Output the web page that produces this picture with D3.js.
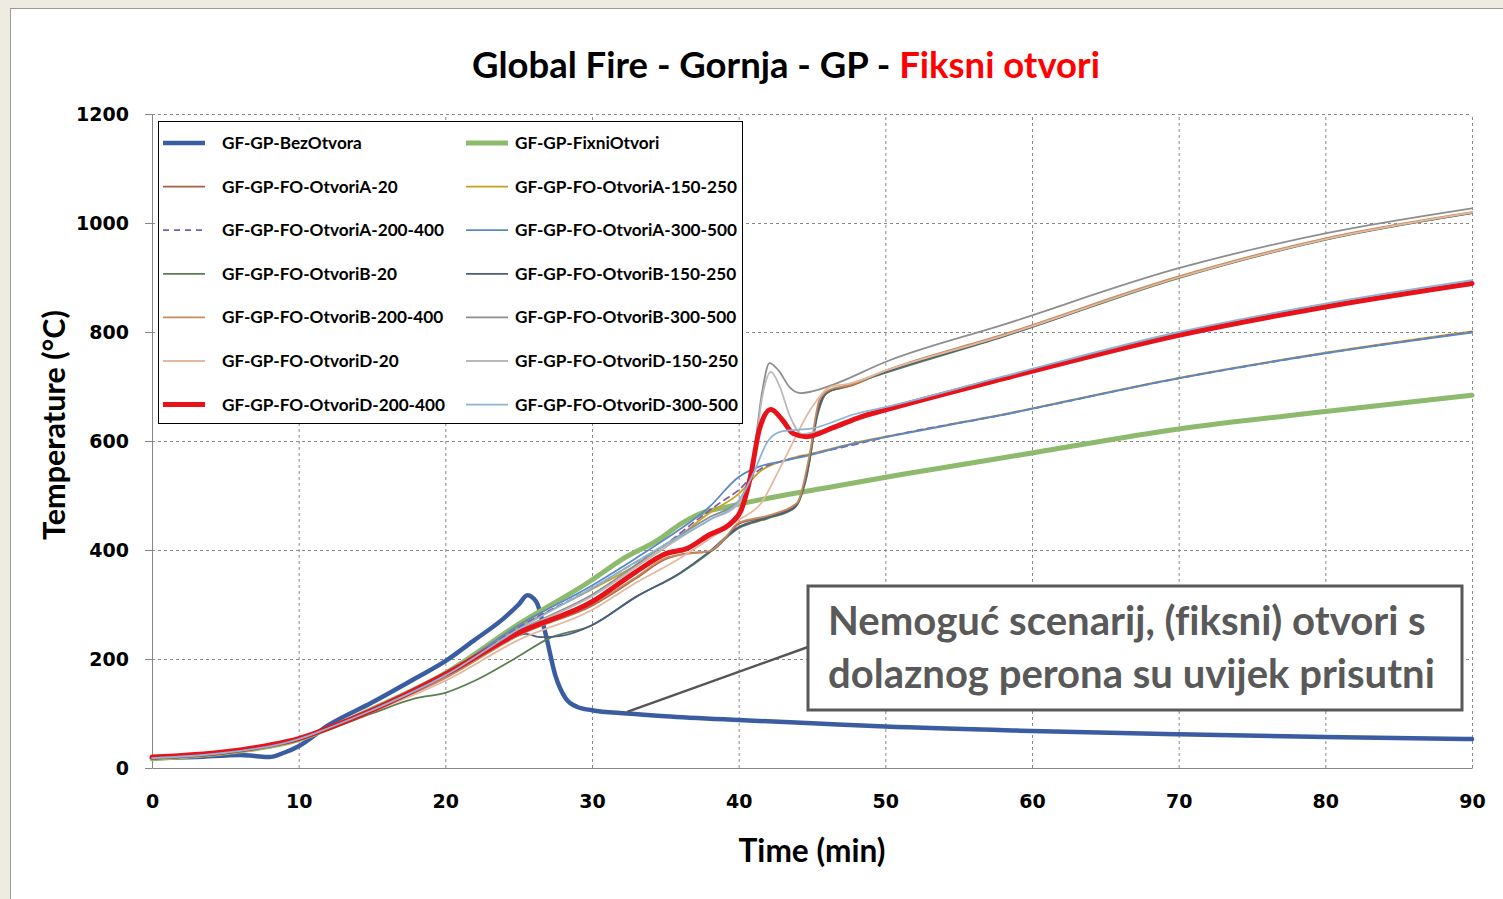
<!DOCTYPE html>
<html>
<head>
<meta charset="utf-8">
<script src="https://cdn.jsdelivr.net/npm/d3@7"></script>
<style>
  body { margin: 0; background: #eeebe2; }
  svg { display: block; }
  text { font-variant-ligatures: none; }
  .tick text { font-family: "DejaVu Sans", sans-serif; font-weight: bold; font-size: 19px; fill: #000; }
  .grid line { stroke: #8a8a8a; stroke-dasharray: 3,3; }
</style>
</head>
<body>
<div id="chart"></div>
<script>
// ---- data (minutes, °C) ----
const xTicks = [0, 10, 20, 30, 40, 50, 60, 70, 80, 90];
const yTicks = [0, 200, 400, 600, 800, 1000, 1200];

const names = [
  'GF-GP-BezOtvora', 'GF-GP-FixniOtvori',
  'GF-GP-FO-OtvoriA-20', 'GF-GP-FO-OtvoriA-150-250',
  'GF-GP-FO-OtvoriA-200-400', 'GF-GP-FO-OtvoriA-300-500',
  'GF-GP-FO-OtvoriB-20', 'GF-GP-FO-OtvoriB-150-250',
  'GF-GP-FO-OtvoriB-200-400', 'GF-GP-FO-OtvoriB-300-500',
  'GF-GP-FO-OtvoriD-20', 'GF-GP-FO-OtvoriD-150-250',
  'GF-GP-FO-OtvoriD-200-400', 'GF-GP-FO-OtvoriD-300-500'
];

const bezOtvora = [[0,18],[3,20],[6,24],[7,22],[8,20],[9,28],[10,40],[12,78],[15,120],[18,165],[20,196],[22,235],[24,275],[25,300],[25.6,317],[26.2,305],[26.8,250],[27.5,170],[28.2,128],[29,112],[30,106],[32.4,100],[35,95],[40,88],[45,82],[50,76],[60,68],[70,62],[80,57],[90,53]];
const fixniOtvori = [[0,17],[5,28],[10,52],[12,72],[15,108],[20,174],[25,264],[30,345],[32,382],[34.6,420],[36,447],[37.4,467],[39.2,479],[42,495],[46.4,516],[51,538],[60,578],[70,622],[80,654],[90,684]];
const otvoriA20 = [[0,18],[5,28],[10,53],[12,73],[15,105],[20,166],[25,245],[30,298],[33,348],[35,383],[36.5,394],[38,397],[39,418],[40,448],[42,461],[44,484],[44.8,560],[45.5,668],[46.2,691],[47.5,700],[50,728],[58,793],[70,900],[80,970],[90,1018]];
const otvoriA150 = [[0,18],[5,28],[10,53],[12,73],[15,106],[20,170],[25,258],[30,328],[35,405],[38,468],[40,503],[41.5,545],[43.3,566],[45,577],[48,597],[50,608],[58,649],[70,716],[80,762],[90,801]];
const otvoriA200 = [[0,18],[5,28],[10,53],[12,73],[15,106],[20,170],[25,258],[30,330],[33,378],[35,410],[37,452],[38.7,486],[40,510],[41.4,547],[43.3,565],[45,576],[48.3,596],[50,607],[58,648],[70,715],[80,761],[90,800]];
const otvoriA300 = [[0,18],[5,28],[10,53],[12,74],[15,107],[20,172],[25,262],[30,335],[33,385],[35,420],[38,479],[40,534],[41.4,553],[43,563],[45,575],[48,596],[50,607],[58,648],[70,715],[80,761],[90,799]];
const otvoriB20 = [[0,17],[5,27],[10,52],[12,70],[15,100],[18,128],[20,138],[22,160],[25,205],[27,237],[30,262],[33,314],[36,357],[38,395],[40,440],[42,458],[43.8,477],[44.6,530],[45.4,650],[46,688],[47,698],[50,725],[58,791],[70,899],[80,969],[90,1018]];
const otvoriB150 = [[0,18],[5,28],[10,53],[12,73],[15,106],[20,168],[24,230],[25.5,246],[26.5,240],[28,243],[30,262],[33,314],[36,358],[38,397],[40,442],[42,460],[43.8,478],[44.6,535],[45.4,655],[46,690],[47,699],[50,727],[58,792],[70,900],[80,970],[90,1019]];
const otvoriB200 = [[0,18],[5,28],[10,53],[12,73],[15,105],[20,165],[25,243],[30,300],[33,350],[35,385],[36.5,393],[38,398],[39,420],[40,450],[42,463],[44,487],[44.8,570],[45.5,675],[46.2,694],[47.5,702],[50,729],[58,795],[70,902],[80,972],[90,1020]];
const otvoriB300 = [[0,18],[5,28],[10,53],[12,73],[15,106],[20,168],[25,252],[30,318],[35,410],[38,460],[40,490],[41,570],[41.6,690],[42.1,743],[42.7,730],[43.5,698],[44.2,688],[45,691],[46.4,703],[50,745],[58,813],[70,917],[80,981],[90,1027]];
const otvoriD20 = [[0,18],[5,28],[10,52],[12,72],[15,103],[20,160],[25,235],[30,290],[33,340],[36,385],[38,420],[40,455],[41.5,485],[43,560],[45,662],[46.3,700],[47.5,705],[50,729],[58,793],[70,900],[80,970],[90,1019]];
const otvoriD150 = [[0,18],[5,28],[10,53],[12,73],[15,106],[20,168],[25,250],[30,315],[35,405],[38,455],[40,485],[41,560],[41.6,680],[42.2,727],[42.8,700],[43.5,645],[44.3,613],[46,622],[48,643],[50,659],[58,715],[70,798],[80,850],[90,893]];
const otvoriD200 = [[0,20],[5,30],[8,42],[10,54],[12,73],[15,106],[20,172],[25,248],[30,305],[33,360],[35,393],[36.5,403],[38,428],[39.5,450],[40.2,475],[40.8,534],[41.4,620],[42.2,658],[43,638],[43.7,614],[44.6,608],[46.4,624],[48.3,644],[50,657],[58,714],[70,794],[80,846],[90,889]];
const otvoriD300 = [[0,18],[5,28],[10,53],[12,73],[15,106],[20,170],[25,255],[30,330],[35,410],[38,455],[40,490],[41,540],[42,600],[43,618],[45,623],[48,650],[50,662],[58,718],[70,800],[80,852],[90,895]];

const seriesValues = [bezOtvora, fixniOtvori, otvoriA20, otvoriA150, otvoriA200, otvoriA300,
  otvoriB20, otvoriB150, otvoriB200, otvoriB300, otvoriD20, otvoriD150, otvoriD200, otvoriD300];

// styles per series (same order as names)
const seriesStyle = [
  {color:'#3a5da2', width:4.5}, {color:'#8dba6c', width:5},
  {color:'#a3623f', width:1.8}, {color:'#c9a21c', width:1.8},
  {color:'#7b5cae', width:1.8, dash:'6,5'}, {color:'#5a89c3', width:1.8},
  {color:'#5a7f50', width:1.8}, {color:'#4b5d80', width:1.8},
  {color:'#c98a5c', width:1.8}, {color:'#8e8e8e', width:1.8},
  {color:'#e3b9a0', width:1.8}, {color:'#b9b9b9', width:1.8},
  {color:'#e8121b', width:5}, {color:'#8db3d6', width:1.8}
];

const series = names.map((n, i) => ({name: n, values: seriesValues[i], ...seriesStyle[i]}));

// ---- layout ----
const width = 1503, height = 899;
const margin = {t:114, r:31, b:131, l:152};

const svg = d3.select('#chart').append('svg')
  .attr('width', width)
  .attr('height', height);

// white panel with frame
svg.append('rect')
  .attr('x', 10.5).attr('y', 8.5)
  .attr('width', width).attr('height', height)
  .attr('fill', '#fff')
  .attr('stroke', '#9a9a9a');

const scaleX = d3.scaleLinear().domain([0, 90]).range([margin.l, width - margin.r]);
const scaleY = d3.scaleLinear().domain([0, 1200]).range([height - margin.b, margin.t]);

// grid
const grid = svg.append('g').attr('class', 'grid');
grid.selectAll('.gy').data(yTicks.slice(1)).enter().append('line')
  .attr('x1', scaleX(0)).attr('x2', scaleX(90))
  .attr('y1', d => scaleY(d) + 0.5).attr('y2', d => scaleY(d) + 0.5);
grid.selectAll('.gx').data(xTicks.slice(1)).enter().append('line')
  .attr('y1', scaleY(0)).attr('y2', scaleY(1200))
  .attr('x1', d => scaleX(d) + 0.5).attr('x2', d => scaleX(d) + 0.5);

// axes
const axisX = d3.axisBottom(scaleX).tickValues(xTicks).tickFormat(d3.format('d'))
  .tickSize(5).tickPadding(22).tickSizeOuter(0);
const axisY = d3.axisLeft(scaleY).tickValues(yTicks).tickFormat(d3.format('d'))
  .tickSize(7).tickPadding(16).tickSizeOuter(0);

const gx = svg.append('g').attr('transform', `translate(0,${scaleY(0)})`).call(axisX);
const gy = svg.append('g').attr('transform', `translate(${scaleX(0)},0)`).call(axisY);
gx.selectAll('.tick line').attr('stroke', '#868686').attr('y2', 0);
gy.selectAll('.tick line').attr('stroke', '#868686');
gx.select('.domain').attr('stroke', '#868686');
gy.select('.domain').attr('stroke', '#868686');
gy.selectAll('.tick text').attr('dy', '0.36em');

// lines
const line = d3.line()
  .x(d => scaleX(d[0]))
  .y(d => scaleY(d[1]))
  .curve(d3.curveMonotoneX);

svg.append('g').selectAll('path').data(series).enter().append('path')
  .attr('d', d => line(d.values))
  .attr('fill', 'none')
  .attr('stroke', d => d.color)
  .attr('stroke-width', d => d.width)
  .attr('stroke-dasharray', d => d.dash || null)
  .attr('stroke-linejoin', 'round')
  .attr('stroke-linecap', 'round');

// fit helper: shrink/grow font until text spans target width
function fitText(sel, target) {
  const fs = parseFloat(sel.style('font-size'));
  const w = sel.node().getComputedTextLength();
  sel.style('font-size', (fs * target / w) + 'px');
}

// legend
const legend = svg.append('g');
legend.append('rect')
  .attr('x', 158.5).attr('y', 121.5)
  .attr('width', 584).attr('height', 302)
  .attr('fill', '#fff').attr('stroke', '#000');

const rowH = 43.6;
const items = legend.selectAll('.item').data(series).enter().append('g')
  .attr('transform', (d, i) => `translate(${i % 2 ? 466 : 163},${143 + Math.floor(i / 2) * rowH})`);
items.append('line')
  .attr('x1', 0).attr('x2', 42)
  .attr('stroke', d => d.color)
  .attr('stroke-width', d => d.width)
  .attr('stroke-dasharray', d => d.dash || null);
items.append('text')
  .attr('x', d => 59 - (series.indexOf(d) % 2 ? 10 : 0))
  .attr('dy', '0.35em')
  .style('font-family', 'Lato, sans-serif')
  .style('font-weight', 'bold')
  .style('font-size', '17.2px')
  .text(d => d.name);

// title
const title = svg.append('text')
  .attr('x', 786).attr('y', 78)
  .attr('text-anchor', 'middle')
  .style('font-family', 'Lato, sans-serif')
  .style('font-weight', 'bold')
  .style('font-size', '34px');
title.append('tspan').text('Global Fire - Gornja - GP - ');
title.append('tspan').attr('fill', '#ff0000').text('Fiksni otvori');
fitText(title, 628);

// axis titles
const xTitle = svg.append('text')
  .attr('x', 812).attr('y', 862)
  .attr('text-anchor', 'middle')
  .style('font-family', 'Lato, sans-serif')
  .style('font-weight', 'bold')
  .style('font-size', '27px')
  .text('Time (min)');
fitText(xTitle, 147);

const yTitle = svg.append('text')
  .attr('transform', 'translate(65,425) rotate(-90)')
  .attr('text-anchor', 'middle')
  .style('font-family', 'Lato, sans-serif')
  .style('font-weight', 'bold')
  .style('font-size', '27px')
  .text('Temperature (°C)');
fitText(yTitle, 230);

// annotation
const note = svg.append('g');
note.append('line')
  .attr('x1', scaleX(32.4)).attr('y1', scaleY(103))
  .attr('x2', 808).attr('y2', 647)
  .attr('stroke', '#555').attr('stroke-width', 2.5);
note.append('rect')
  .attr('x', 808).attr('y', 586)
  .attr('width', 654).attr('height', 124)
  .attr('fill', '#fff').attr('stroke', '#595959').attr('stroke-width', 3);
const noteLines = ['Nemoguć scenarij, (fiksni) otvori s', 'dolaznog perona su uvijek prisutni'];
noteLines.forEach((t, i) => {
  const tx = note.append('text')
    .attr('x', 828).attr('y', 635 + i * 53)
    .attr('fill', '#595959')
    .style('font-family', 'Lato, sans-serif')
    .style('font-weight', 'bold')
    .style('font-size', '37px')
    .text(t);
  fitText(tx, i ? 607 : 598);
});
</script>
</body>
</html>
